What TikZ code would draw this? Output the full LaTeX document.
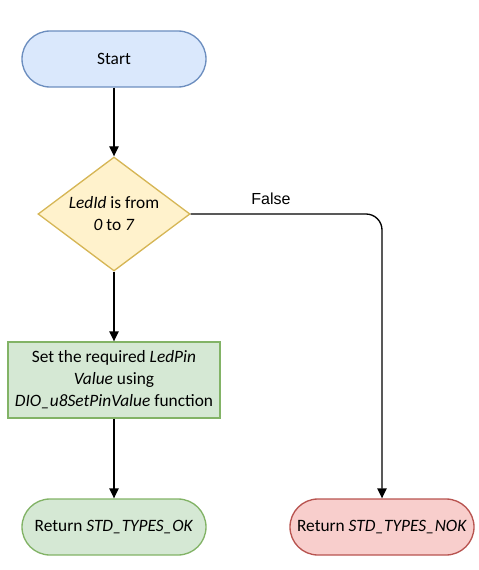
\documentclass[tikz,border=0pt]{standalone}
\usepackage{fontspec}
\setmainfont{Carlito}
\newfontfamily\labelfont{Liberation Sans}
\usepackage{tikz}
\usetikzlibrary{shapes,arrows.meta,positioning,calc}
\definecolor{start-fill}{HTML}{DAE8FC}
\definecolor{start-line}{HTML}{6C8EBF}
\definecolor{dec-fill}{HTML}{FFF2CC}
\definecolor{dec-line}{HTML}{D6B656}
\definecolor{ok-fill}{HTML}{D5E8D4}
\definecolor{ok-line}{HTML}{82B366}
\definecolor{nok-fill}{HTML}{F8CECC}
\definecolor{nok-line}{HTML}{B85450}

\begin{document}
\begin{tikzpicture}[x=0.75pt, y=-0.75pt,
    every node/.style={font=\fontsize{13}{16.5}\selectfont},
    term/.style={rectangle, draw, line width=1pt, rounded corners=21pt, minimum width=138pt, minimum height=42pt, text centered},
    decision/.style={diamond, draw=dec-line, fill=dec-fill, line width=1pt, aspect=1.33, minimum width=114pt, minimum height=85.5pt, inner sep=0pt, align=center},
    process/.style={rectangle, draw=ok-line, fill=ok-fill, line width=1pt, minimum width=159pt, minimum height=57pt, align=center, inner sep=0pt},
    arrow/.style={-{Triangle[length=7.5pt, width=7pt]}, line width=1pt}]

    \useasboundingbox (0,0) rectangle (478,570);

    % Nodes
    \node[term, draw=start-line, fill=start-fill] (start) at (114,59) {Start};
    \node[decision] (check) at (114,214) {\textit{LedId} is from\\\textit{0} to \textit{7}};
    \node[process] (setpin) at (114,380) {Set the required \textit{LedPin}\\\textit{Value} using\\\textit{DIO\_u8SetPinValue} function};
    \node[term, draw=ok-line, fill=ok-fill] (retok) at (114,527) {Return \textit{STD\_TYPES\_OK}};
    \node[term, draw=nok-line, fill=nok-fill] (retnok) at (382,527) {Return \textit{STD\_TYPES\_NOK}};

    % Arrows
    \draw[arrow] (start) -- (check);
    \draw[arrow] (check) -- (setpin);
    \draw[arrow] (setpin) -- (retok);
    \draw[arrow, rounded corners=12pt] (check.east) -| node[pos=0.21, above=3pt, font=\labelfont\fontsize{12}{14}\selectfont] (false) {False} (retnok.north);
\end{tikzpicture}
\end{document}
